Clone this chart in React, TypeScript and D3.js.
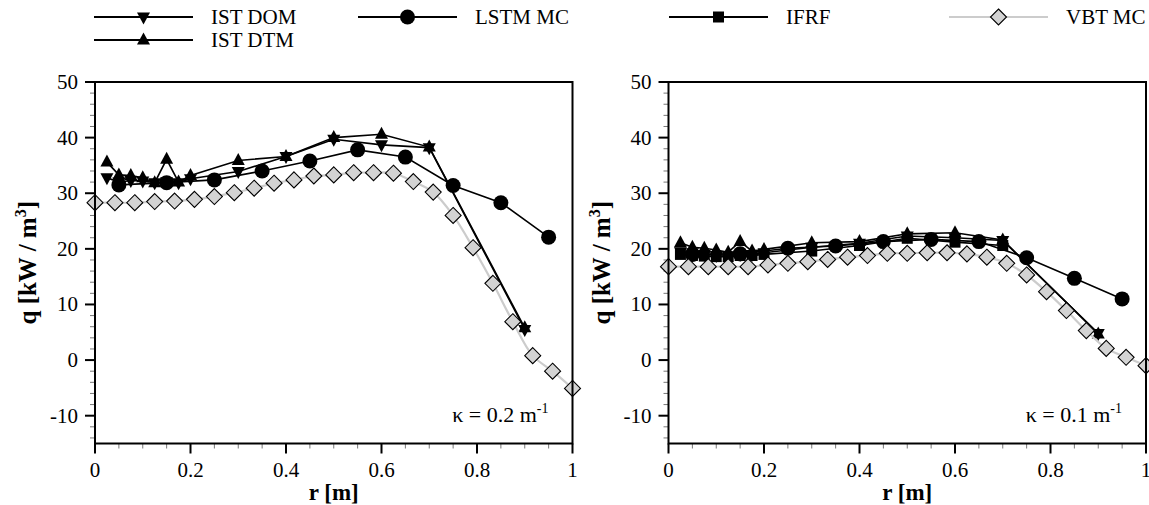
import React from 'react';
import * as d3 from 'd3';

// ---------- data ----------
const rIST = [0.025, 0.05, 0.075, 0.1, 0.125, 0.15, 0.175, 0.2, 0.3, 0.4, 0.5, 0.6, 0.7, 0.9];
const istDomLeft = [32.8, 32.0, 32.3, 32.2, 31.9, 32.0, 31.9, 32.6, 33.9, 36.6, 39.7, 38.7, 38.2, 5.5];
const istDtmLeft = [35.6, 33.3, 33.2, 32.8, 31.9, 36.1, 32.0, 33.2, 35.9, 36.6, 40.0, 40.6, 38.3, 5.8];
const istDomRight = [19.5, 19.3, 19.0, 18.8, 18.6, 19.0, 19.0, 19.3, 20.3, 21.0, 22.3, 22.0, 21.5, 4.8];
const istDtmRight = [21.1, 20.3, 20.1, 19.8, 19.4, 21.3, 19.6, 19.9, 21.1, 21.3, 22.7, 22.9, 21.6, 4.7];

const rIFRF = [0.025, 0.05, 0.075, 0.1, 0.125, 0.15, 0.175, 0.2, 0.3, 0.4, 0.5, 0.6, 0.7];
const ifrfRight = [19.0, 18.8, 18.7, 18.6, 18.6, 18.8, 18.8, 19.0, 19.6, 20.6, 21.9, 21.2, 20.6];

const rLSTM = [0.05, 0.15, 0.25, 0.35, 0.45, 0.55, 0.65, 0.75, 0.85, 0.95];
const lstmLeft = [31.5, 31.9, 32.4, 34.0, 35.8, 37.8, 36.5, 31.4, 28.3, 22.1];
const lstmRight = [19.0, 19.1, 20.1, 20.5, 21.3, 21.7, 21.3, 18.4, 14.7, 11.0];

const rVBT = [0, 0.0417, 0.0833, 0.125, 0.1667, 0.2083, 0.25, 0.2917, 0.3333, 0.375, 0.4167, 0.4583, 0.5,
  0.5417, 0.5833, 0.625, 0.6667, 0.7083, 0.75, 0.7917, 0.8333, 0.875, 0.9167, 0.9583, 1];
const vbtLeft = [28.3, 28.3, 28.3, 28.5, 28.6, 28.9, 29.4, 30.1, 30.9, 31.8, 32.4, 33.1, 33.3, 33.7, 33.7,
  33.6, 32.1, 30.2, 26.0, 20.2, 13.8, 6.9, 0.8, -2.0, -5.1];
const vbtRight = [16.8, 16.8, 16.8, 16.8, 16.8, 17.1, 17.4, 17.7, 18.1, 18.5, 18.8, 19.2, 19.2, 19.3, 19.3,
  19.1, 18.5, 17.4, 15.3, 12.3, 8.9, 5.3, 2.1, 0.5, -1.0];

const xTicks = [0, 0.2, 0.4, 0.6, 0.8, 1];
const xTickLabels = ['0', '0.2', '0.4', '0.6', '0.8', '1'];
const yTicks = [-10, 0, 10, 20, 30, 40, 50];
const legendNames = ['IST DOM', 'IST DTM', 'LSTM MC', 'IFRF', 'VBT MC'];

// ---------- drawing ----------
const FONT = '"Liberation Serif", Tinos, "Times New Roman", Times, serif';
const TOP = 82;
const BOTTOM = 443.5;
const PW = 477.5;

type MarkerKind = 'down' | 'up' | 'circle' | 'square' | 'diamond';

function Marker({ kind, x, y }: { kind: MarkerKind; x: number; y: number }) {
  if (kind === 'circle') return <circle cx={x} cy={y} r={7.5} fill="#000" />;
  if (kind === 'square') return <rect x={x - 5.5} y={y - 5.5} width={11} height={11} fill="#000" />;
  if (kind === 'diamond')
    return (
      <path d={`M${x},${y - 8}L${x + 8},${y}L${x},${y + 8}L${x - 8},${y}Z`} fill="#d3d3d3" stroke="#000" strokeWidth={1.1} />
    );
  if (kind === 'up')
    return <path d={`M${x},${y - 7.5}L${x + 6.5},${y + 4.5}L${x - 6.5},${y + 4.5}Z`} fill="#000" />;
  return <path d={`M${x},${y + 7.5}L${x + 6.5},${y - 4.5}L${x - 6.5},${y - 4.5}Z`} fill="#000" />;
}

type Series = { r: number[]; q: number[]; kind: MarkerKind; gray?: boolean };

function Panel({ x0, series, kappa }: { x0: number; series: Series[]; kappa: string }) {
  const x = d3.scaleLinear().domain([0, 1]).range([x0, x0 + PW]);
  const y = d3.scaleLinear().domain([-15, 50]).range([BOTTOM, TOP]);
  const minorX = d3.range(0, 1.0001, 0.05).filter((v) => Math.abs(v * 5 - Math.round(v * 5)) > 1e-6);
  const minorY = d3.range(-14, 50, 2).filter((v) => v % 10 !== 0);
  const linear = d3.line<[number, number]>().x((d) => x(d[0])).y((d) => y(d[1]));
  const smooth = d3
    .line<[number, number]>()
    .x((d) => x(d[0]))
    .y((d) => y(d[1]))
    .curve(d3.curveCatmullRom.alpha(0.5));
  return (
    <g style={{ fontFamily: FONT }}>
      <defs>
        <clipPath id={`clip${Math.round(x0)}`}>
          <rect x={x0 - 10} y={TOP - 10} width={PW + 20} height={BOTTOM - TOP + 20} />
        </clipPath>
      </defs>
      {minorX.map((v) => (
        <line key={'mx' + v} x1={x(v)} x2={x(v)} y1={BOTTOM} y2={BOTTOM + 5} stroke="#777" strokeWidth={1} />
      ))}
      {minorY.map((v) => (
        <line key={'my' + v} x1={x0 - 5} x2={x0} y1={y(v)} y2={y(v)} stroke="#777" strokeWidth={1} />
      ))}
      {xTicks.map((v) => (
        <line key={'Mx' + v} x1={x(v)} x2={x(v)} y1={BOTTOM} y2={BOTTOM + 10} stroke="#000" strokeWidth={2} />
      ))}
      {yTicks.map((v) => (
        <line key={'My' + v} x1={x0 - 10} x2={x0} y1={y(v)} y2={y(v)} stroke="#000" strokeWidth={2} />
      ))}
      {xTicks.map((v, i) => (
        <text key={'xl' + v} x={x(v)} y={BOTTOM + 33} textAnchor="middle" fontSize={21}>
          {xTickLabels[i]}
        </text>
      ))}
      {yTicks.map((v) => (
        <text key={'yl' + v} x={x0 - 17} y={y(v) + 7} textAnchor="end" fontSize={21}>
          {v}
        </text>
      ))}
      <text x={x0 + PW / 2} y={BOTTOM + 56} textAnchor="middle" fontSize={23} fontWeight="bold">
        r [m]
      </text>
      <text
        transform={`translate(${x0 - 59},${(TOP + BOTTOM) / 2}) rotate(-90)`}
        textAnchor="middle"
        fontSize={25}
        fontWeight="bold"
      >
        q [kW / m<tspan dy={-10} fontSize={16}>3</tspan>
        <tspan dy={10}>]</tspan>
      </text>
      <text x={x0 + PW - 24} y={BOTTOM - 22} textAnchor="end" fontSize={22}>
        κ = {kappa} m<tspan dy={-9} fontSize={14}>-1</tspan>
      </text>
      <g clipPath={`url(#clip${Math.round(x0)})`}>
        {series.map((s, i) => {
          const pts = s.r.map((r, j) => [r, s.q[j]] as [number, number]);
          return (
            <g key={i}>
              <path
                d={(s.gray ? smooth : linear)(pts) || ''}
                fill="none"
                stroke={s.gray ? '#cccccc' : '#000'}
                strokeWidth={s.gray ? 2.2 : 1.6}
              />
              {pts.map((p, j) => (
                <Marker key={j} kind={s.kind} x={x(p[0])} y={y(p[1])} />
              ))}
            </g>
          );
        })}
      </g>
      <rect x={x0} y={TOP} width={PW} height={BOTTOM - TOP} fill="none" stroke="#000" strokeWidth={2} />
    </g>
  );
}

function LegendItem({ x, y, kind, label, gray }: { x: number; y: number; kind: MarkerKind; label: string; gray?: boolean }) {
  return (
    <g>
      <line x1={x} x2={x + 99} y1={y} y2={y} stroke={gray ? '#cccccc' : '#000'} strokeWidth={gray ? 2.2 : 1.8} />
      <Marker kind={kind} x={x + 49.5} y={y} />
      <text x={x + 117} y={y + 7} style={{ fontFamily: FONT }} fontSize={21}>
        {label}
      </text>
    </g>
  );
}

export default function App() {
  const left: Series[] = [
    { r: rIST, q: istDomLeft, kind: 'down' },
    { r: rIST, q: istDtmLeft, kind: 'up' },
    { r: rLSTM, q: lstmLeft, kind: 'circle' },
    { r: rVBT, q: vbtLeft, kind: 'diamond', gray: true },
  ];
  const right: Series[] = [
    { r: rIST, q: istDomRight, kind: 'down' },
    { r: rIST, q: istDtmRight, kind: 'up' },
    { r: rLSTM, q: lstmRight, kind: 'circle' },
    { r: rIFRF, q: ifrfRight, kind: 'square' },
    { r: rVBT, q: vbtRight, kind: 'diamond', gray: true },
  ];
  return (
    <svg width={1149} height={505} style={{ position: 'absolute', left: 0, top: 0, background: '#fff' }}>
      <rect width={1149} height={505} fill="#fff" />
      <LegendItem x={94} y={17} kind="down" label={legendNames[0]} />
      <LegendItem x={94} y={40} kind="up" label={legendNames[1]} />
      <LegendItem x={358} y={17} kind="circle" label={legendNames[2]} />
      <LegendItem x={669} y={17} kind="square" label={legendNames[3]} />
      <LegendItem x={949} y={17} kind="diamond" label={legendNames[4]} gray />
      <Panel x0={95} series={left} kappa="0.2" />
      <Panel x0={668.5} series={right} kappa="0.1" />
    </svg>
  );
}
